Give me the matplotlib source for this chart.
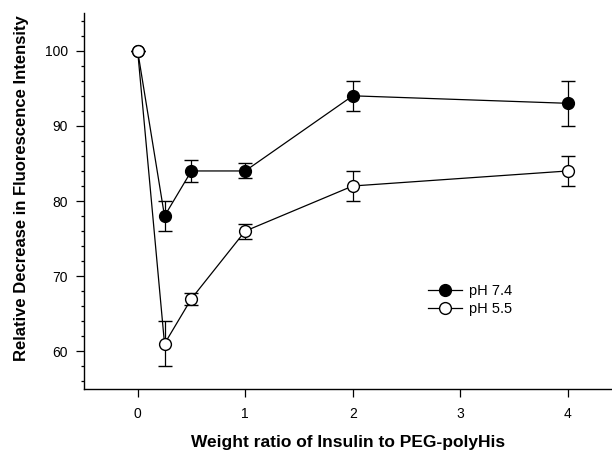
import matplotlib
matplotlib.use("Agg")
import matplotlib.pyplot as plt
from matplotlib.lines import Line2D
from matplotlib.ticker import MultipleLocator

plt.rcParams["font.family"] = ["Liberation Sans", "DejaVu Sans"]

# weight ratio (insulin : PEG-polyHis)
ratio = [0, 0.25, 0.5, 1, 2, 4]

ph74_mean = [100, 78, 84, 84, 94, 93]
ph74_err = [0, 2, 1.5, 1, 2, 3]

ph55_mean = [100, 61, 67, 76, 82, 84]
ph55_err = [0, 3, 0.8, 1, 2, 2]

x_ticks = [0, 1, 2, 3, 4]
y_ticks = [60, 70, 80, 90, 100]

fig = plt.figure(figsize=(6.12, 4.53), dpi=100)
ax = fig.add_axes([0.137, 0.1415, 0.863, 0.8295])

style = dict(color="black", linewidth=0.9, markersize=8.5, markeredgewidth=1.0,
             elinewidth=0.9, capsize=5, capthick=0.9, markeredgecolor="black")
ax.errorbar(ratio, ph74_mean, yerr=ph74_err, fmt="-o", markerfacecolor="black",
            zorder=3, **style)
ax.errorbar(ratio, ph55_mean, yerr=ph55_err, fmt="-o", markerfacecolor="white",
            zorder=4, **style)

ax.set_xlim(-0.5, 4.41)
ax.set_ylim(55, 105)
ax.set_xticks(x_ticks)
ax.set_yticks(y_ticks)
ax.yaxis.set_minor_locator(MultipleLocator(2))

for side in ("top", "right"):
    ax.spines[side].set_visible(False)
for side in ("left", "bottom"):
    ax.spines[side].set_linewidth(1.0)

ax.tick_params(axis="both", which="major", direction="out", length=5.8, width=0.9,
               labelsize=10, colors="black")
ax.tick_params(axis="x", pad=7.2)
ax.tick_params(axis="y", pad=5.6)
ax.tick_params(axis="y", which="minor", direction="out", length=2.3, width=0.9)

ax.set_xlabel("Weight ratio of Insulin to PEG-polyHis", fontsize=12.5,
              fontweight="bold")
ax.xaxis.set_label_coords(0.5, -0.122)
ax.set_ylabel("Relative Decrease in Fluorescence Intensity", fontsize=12,
              fontweight="bold")
ax.yaxis.set_label_coords(-0.104, 0.535)

# plain line+marker legend entries (no error bars in the key)
handles = [
    Line2D([], [], color="black", linewidth=0.9, marker="o", markersize=8.5,
           markerfacecolor="black", markeredgecolor="black"),
    Line2D([], [], color="black", linewidth=0.9, marker="o", markersize=8.5,
           markerfacecolor="white", markeredgecolor="black"),
]
ax.legend(handles, ["pH 7.4", "pH 5.5"], loc="center left",
          bbox_to_anchor=(0.652, 0.237), frameon=False, fontsize=10.5,
          handlelength=2.3, handletextpad=0.5, labelspacing=0.3,
          borderpad=0, borderaxespad=0)

fig.savefig("out.png", dpi=100)
